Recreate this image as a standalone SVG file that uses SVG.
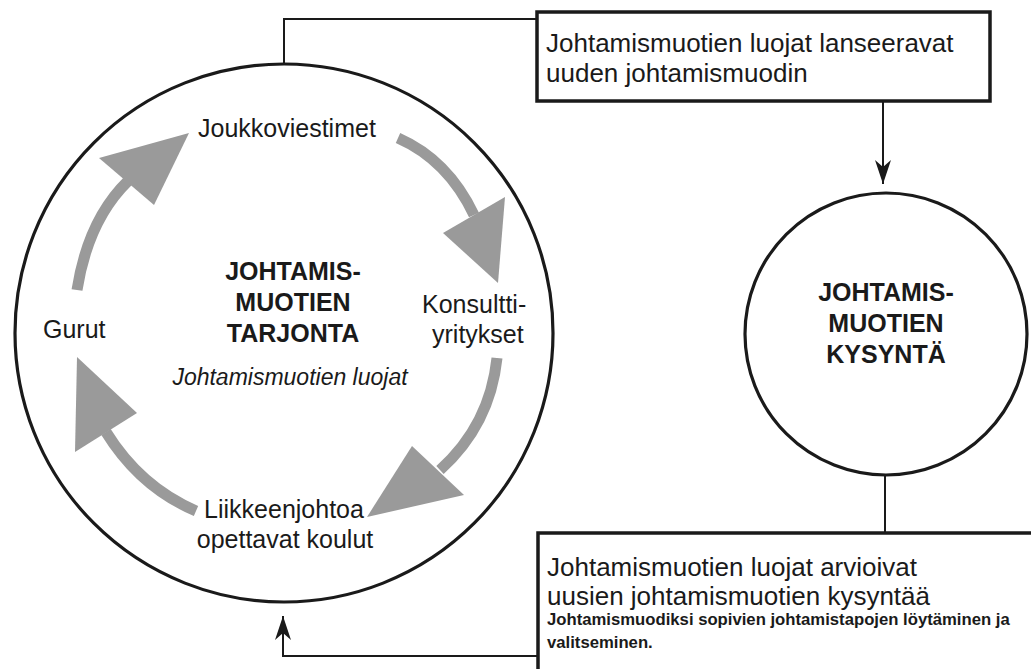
<svg xmlns="http://www.w3.org/2000/svg" width="1031" height="669" viewBox="0 0 1031 669">
<style>
.t{font-family:"Liberation Sans",Arial,sans-serif;fill:#1a1a1a}
.lab{font-size:25px}
.box-t{font-size:26px}
.b{font-weight:bold}
.ring{fill:none;stroke:#1a1a1a;stroke-width:3.2}
.box{fill:#fff;stroke:#1a1a1a;stroke-width:3.5}
.con{fill:none;stroke:#1a1a1a;stroke-width:2}
.shaft{fill:none;stroke:#9a9a9a;stroke-width:11}
.head{fill:#9a9a9a}
</style>
<defs>
<marker id="arr" viewBox="0 0 24 16" refX="24" refY="8" markerWidth="24" markerHeight="16" orient="auto" markerUnits="userSpaceOnUse">
<path d="M0,0 L24,8 L0,16 L7,8 z" fill="#1a1a1a"/>
</marker>
</defs>
<rect width="1031" height="669" fill="#fff"/>

<g id="connectors">
<polyline class="con" points="284,64 284,19 537,19"/>
<line class="con" x1="883" y1="101" x2="883" y2="184" marker-end="url(#arr)"/>
<line class="con" x1="885" y1="475" x2="885" y2="533"/>
<polyline class="con" points="537,656 283,656 283,616" marker-end="url(#arr)"/>
</g>

<g id="supply">
<circle class="ring" cx="284" cy="333" r="269"/>
<text class="t lab b" text-anchor="middle" x="293" y="280">JOHTAMIS-</text>
<text class="t lab b" text-anchor="middle" x="293" y="311">MUOTIEN</text>
<text class="t lab b" text-anchor="middle" x="293" y="342">TARJONTA</text>
<text class="t" font-size="23" font-style="italic" text-anchor="middle" x="290" y="385">Johtamismuotien luojat</text>
</g>

<g id="cycle">
<path class="shaft" d="M77,290 Q88,220 128,181"/>
<polygon class="head" points="99,158 189,133 154,205"/>
<path class="shaft" d="M398,138 Q448,160 474,215"/>
<polygon class="head" points="443,233 505,197 498,283"/>
<path class="shaft" d="M497,358 Q490,425 440,470"/>
<polygon class="head" points="412,446 464,495 367,517"/>
<path class="shaft" d="M196,511 Q140,487 106,432"/>
<polygon class="head" points="77,357 137,413 75,452"/>
</g>

<g id="n-joukkoviestimet"><text class="t lab" x="198" y="137">Joukkoviestimet</text></g>
<g id="n-konsultti"><text class="t lab" x="422" y="313">Konsultti-</text><text class="t lab" x="432" y="343">yritykset</text></g>
<g id="n-koulut"><text class="t lab" text-anchor="middle" x="284" y="518">Liikkeenjohtoa</text><text class="t lab" text-anchor="middle" x="285" y="548">opettavat koulut</text></g>
<g id="n-gurut"><text class="t lab" x="43" y="338">Gurut</text></g>

<g id="demand">
<circle class="ring" cx="886" cy="334" r="141"/>
<text class="t lab b" text-anchor="middle" x="886" y="301">JOHTAMIS-</text>
<text class="t lab b" text-anchor="middle" x="886" y="332">MUOTIEN</text>
<text class="t lab b" text-anchor="middle" x="886" y="363">KYSYNTÄ</text>
</g>

<g id="launch">
<rect class="box" x="537" y="12" width="453" height="89"/>
<text class="t box-t" x="546" y="52">Johtamismuotien luojat lanseeravat</text>
<text class="t box-t" x="546" y="82">uuden johtamismuodin</text>
</g>

<g id="evaluate">
<rect class="box" x="538" y="533" width="510" height="150"/>
<text class="t box-t" x="547" y="576">Johtamismuotien luojat arvioivat</text>
<text class="t box-t" x="547" y="605">uusien johtamismuotien kysyntää</text>
<text class="t b" font-size="16.7" x="547" y="625">Johtamismuodiksi sopivien johtamistapojen löytäminen ja</text>
<text class="t b" font-size="16.7" x="547" y="648">valitseminen.</text>
</g>
</svg>
